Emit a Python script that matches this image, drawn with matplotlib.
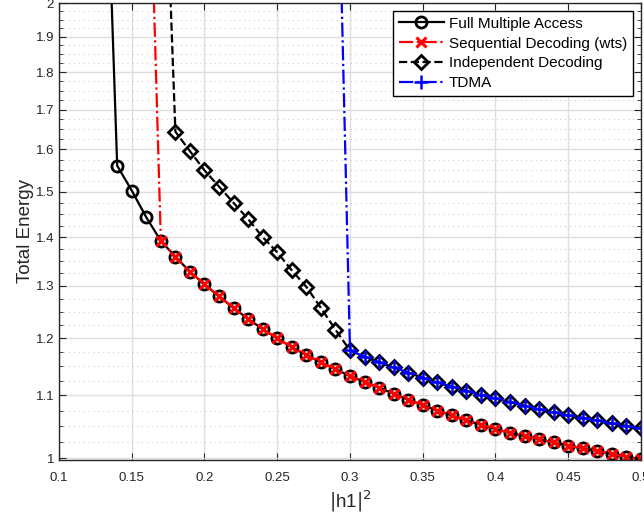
import numpy as np
import matplotlib
matplotlib.use("Agg")
import matplotlib.pyplot as plt
from matplotlib.ticker import FixedLocator, FixedFormatter, NullFormatter

plt.rcParams['font.family'] = ['Liberation Sans', 'DejaVu Sans']

# Channel gain |h1|^2 for each scheme (first point of each series is the
# very large energy value just before the scheme becomes usable)
x_fma = [0.13, 0.14, 0.15, 0.16, 0.17, 0.18, 0.19, 0.20, 0.21, 0.22, 0.23, 0.24,
         0.25, 0.26, 0.27, 0.28, 0.29, 0.30, 0.31, 0.32, 0.33, 0.34, 0.35, 0.36,
         0.37, 0.38, 0.39, 0.40, 0.41, 0.42, 0.43, 0.44, 0.45, 0.46, 0.47, 0.48,
         0.49, 0.50]
e_fma = [3.00, 1.561, 1.503, 1.443, 1.392, 1.359, 1.328, 1.303, 1.279, 1.257, 1.236, 1.217,
         1.200, 1.184, 1.170, 1.157, 1.145, 1.133, 1.123, 1.113, 1.103, 1.093, 1.084, 1.075,
         1.067, 1.059, 1.052, 1.045, 1.039, 1.034, 1.029, 1.024, 1.019, 1.015, 1.011, 1.006,
         1.002, 0.998]

x_seq = x_fma[3:]
e_seq = [3.00] + e_fma[4:]

x_ind = [0.17, 0.18, 0.19, 0.20, 0.21, 0.22, 0.23, 0.24, 0.25, 0.26, 0.27, 0.28, 0.29,
         0.30, 0.31, 0.32, 0.33, 0.34, 0.35, 0.36, 0.37, 0.38, 0.39, 0.40, 0.41, 0.42,
         0.43, 0.44, 0.45, 0.46, 0.47, 0.48, 0.49, 0.50]
e_ind = [3.00, 1.644, 1.596, 1.550, 1.512, 1.475, 1.439, 1.400, 1.368, 1.331, 1.298, 1.257, 1.216,
         1.178, 1.167, 1.157, 1.148, 1.139, 1.130, 1.122, 1.115, 1.108, 1.101, 1.095, 1.089, 1.083,
         1.077, 1.072, 1.067, 1.063, 1.059, 1.054, 1.050, 1.046]

x_tdma = x_ind[12:]
e_tdma = [3.00] + e_ind[13:]

labels = ['Full Multiple Access', 'Sequential Decoding (wts)',
          'Independent Decoding', 'TDMA']

x_ticks = [0.1, 0.15, 0.2, 0.25, 0.3, 0.35, 0.4, 0.45, 0.5]
x_ticklabels = ['0.1', '0.15', '0.2', '0.25', '0.3', '0.35', '0.4', '0.45', '0.5']
y_ticks = [1.0, 1.1, 1.2, 1.3, 1.4, 1.5, 1.6, 1.7, 1.8, 1.9, 2.0]
y_ticklabels = ['1', '1.1', '1.2', '1.3', '1.4', '1.5', '1.6', '1.7', '1.8', '1.9', '2']

fig = plt.figure(figsize=(6.44, 5.19), dpi=100)
ax = fig.add_axes([0.0916, 0.1137, 0.9037, 0.8805])

ax.plot(x_fma, e_fma, color='black', ls='-', lw=1.6, marker='o', ms=8,
        mfc='none', mec='black', mew=2, label=labels[0])
ax.plot(x_seq, e_seq, color='red', ls='-.', lw=1.6, marker='x', ms=7.5,
        mec='red', mew=2.2, label=labels[1])
ax.plot(x_ind, e_ind, color='black', ls='--', lw=1.6, marker='D', ms=7.5,
        mfc='none', mec='black', mew=2, label=labels[2])
ax.plot(x_tdma, e_tdma, color='blue', ls='-.', lw=1.6, marker='+', ms=10,
        mec='blue', mew=1.8, label=labels[3])

ax.set_yscale('log')
ax.set_xlim(0.1, 0.5)
ax.set_ylim(0.997, 2.0)

ax.xaxis.set_major_locator(FixedLocator(x_ticks))
ax.xaxis.set_major_formatter(FixedFormatter(x_ticklabels))
ax.yaxis.set_major_locator(FixedLocator(y_ticks))
ax.yaxis.set_major_formatter(FixedFormatter(y_ticklabels))
minor_y = [round(1.0 + 0.025 * k, 3) for k in range(41) if k % 4 != 0]
ax.yaxis.set_minor_locator(FixedLocator(minor_y))
ax.yaxis.set_minor_formatter(NullFormatter())
ax.xaxis.set_minor_locator(FixedLocator([]))

ax.grid(True, which='major', color='#dedede', lw=1.0, ls='-')
ax.grid(True, which='minor', axis='y', color='#c4c4c4', lw=0.7, ls=(0, (1, 4)))
ax.set_axisbelow(True)

ax.tick_params(which='both', direction='in', top=True, right=True,
               colors='#262626', labelsize=9.5)
ax.tick_params(which='major', length=5, width=0.8)
ax.tick_params(which='minor', length=3, width=0.6)
ax.tick_params(axis='x', pad=9)
for sp in ax.spines.values():
    sp.set_color('#262626')
    sp.set_linewidth(1.0)

ax.set_xlabel(r'$|$h1$|^2$', fontsize=13.5, color='#262626', labelpad=3)
ax.set_ylabel('Total Energy', fontsize=13.5, color='#262626', labelpad=1)

leg = ax.legend(loc='upper right', fontsize=11, frameon=True, fancybox=False,
                edgecolor='black', framealpha=1.0, handlelength=3.0,
                borderpad=0.35, labelspacing=0.38, handletextpad=0.3,
                borderaxespad=0.55)
leg.get_frame().set_linewidth(1.0)

fig.savefig('out.png', dpi=100)
